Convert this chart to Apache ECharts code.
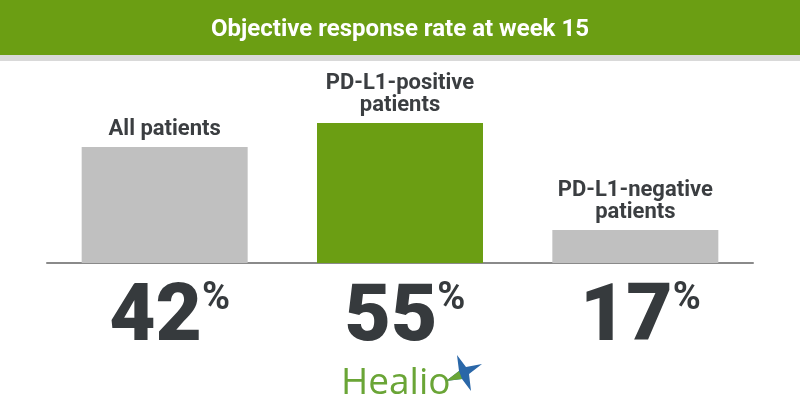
<!DOCTYPE html>
<html><head><meta charset="utf-8">
<script src="https://cdn.jsdelivr.net/npm/echarts@6/dist/echarts.min.js"></script>
<style>html,body{margin:0;padding:0;background:#fff}#c{width:800px;height:420px}</style>
</head><body><div id="c"></div>
<script>
const titleText = 'Objective response rate at week 15';
const categories = ['All patients', 'PD-L1-positive\npatients', 'PD-L1-negative\npatients'];
const rates = [42, 55, 17];            // response rate labels (%)
const barHeights = [46.4, 56, 13.2];   // bar heights as drawn in the picture (0-100 scale)
const highlightIndex = 1;
const brandName = 'Healio';

const GREEN = '#6b9e13';
const GREY = '#c0c0c0';
const DARK = '#363a3d';

const chart = echarts.init(document.getElementById('c'), null, {renderer: 'canvas'});
chart.setOption({
  animation: false,
  backgroundColor: '#ffffff',
  grid: {left: 47, right: 47, top: 13, bottom: 157},
  xAxis: {
    type: 'category',
    data: categories,
    axisLine: {lineStyle: {color: '#8a8a8a', width: 2}},
    axisTick: {show: false},
    axisLabel: {
      margin: 17,
      padding: [0, 0, 0, 10],
      formatter: (v, i) => '{n|' + rates[i] + '}{p|%}',
      rich: {
        n: {fontSize: 80, fontWeight: 900, fontFamily: 'Roboto', color: DARK, lineHeight: 80},
        p: {fontSize: 38, fontWeight: 700, fontFamily: 'Roboto', color: DARK, lineHeight: 54, verticalAlign: 'top'}
      }
    }
  },
  yAxis: {type: 'value', min: 0, max: 100, show: false, splitLine: {show: false}},
  series: [{
    type: 'bar',
    barWidth: 166,
    data: barHeights.map((h, i) => ({value: h, itemStyle: {color: i === highlightIndex ? GREEN : GREY}})),
    label: {
      show: true,
      position: 'top',
      distance: 7,
      formatter: '{b}',
      fontFamily: 'Roboto',
      fontSize: 22,
      fontWeight: 'bold',
      lineHeight: 22,
      color: '#3b3e41',
      align: 'center'
    }
  }],
  graphic: [
    {type: 'rect', shape: {x: 0, y: 0, width: 800, height: 55}, style: {fill: GREEN}, z: 10},
    {type: 'rect', shape: {x: 0, y: 55, width: 800, height: 6}, style: {fill: '#d9d9d9'}, z: 10},
    {type: 'text', x: 400, y: 30, z: 11, style: {text: titleText, fill: '#ffffff', font: 'bold 24px "Liberation Sans Narrow", Roboto, sans-serif', textAlign: 'center', textVerticalAlign: 'middle'}},
    {type: 'text', x: 341, y: 383, z: 11, style: {text: brandName, fill: '#6aa536', font: '37px "Open Sans", sans-serif', textAlign: 'left', textVerticalAlign: 'middle'}},
    {type: 'polygon', z: 11, shape: {points: [[457,355],[466,367],[482,364],[469,374],[471,391],[462,379],[446,381],[459,371]]}, style: {fill: '#2a67a8'}},
    {type: 'polygon', z: 12, shape: {points: [[446,381],[459,371],[462,379]]}, style: {fill: '#6aa536'}}
  ]
});
</script></body></html>
